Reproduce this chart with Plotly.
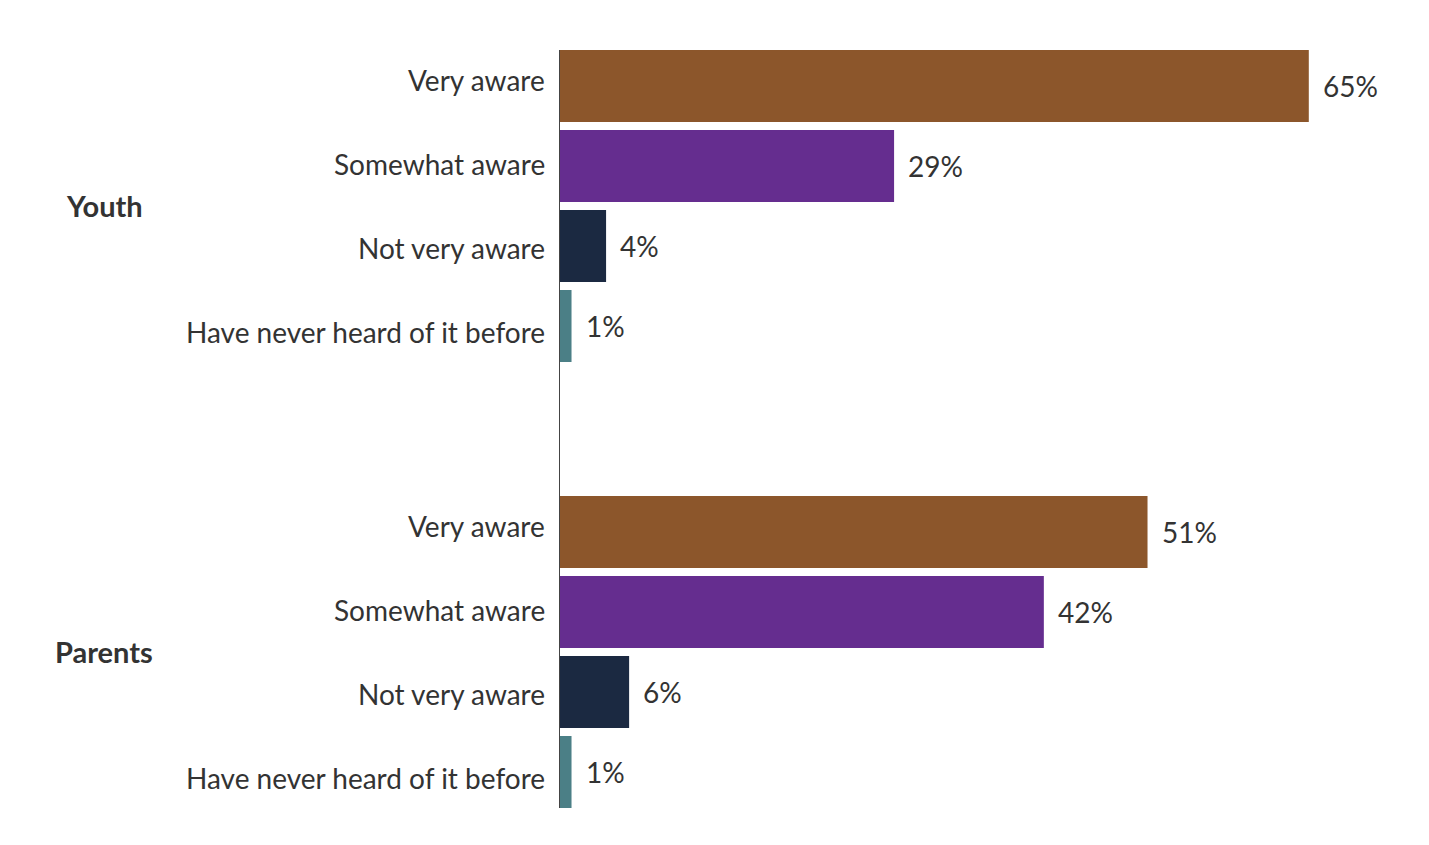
import plotly.graph_objects as go

# dados
groups = ['Youth', 'Parents']
answers = ['Very aware', 'Somewhat aware', 'Not very aware', 'Have never heard of it before']
youth = [65, 29, 4, 1]
parents = [51, 42, 6, 1]
colors = ['#8C562B', '#652D8F', '#1B2941', '#4B7F86']

GROUP_GAP = 2.575  # espaço extra entre os grupos (em unidades de linha)
FONT = 'Source Sans Pro, Lato, Noto Sans, sans-serif'
TXT = '#333333'

fig = go.Figure()

ypos = []
annots = []
for g, (name, vals) in enumerate(zip(groups, [youth, parents])):
    base = g * (len(answers) + GROUP_GAP - 1)
    pos = [base + i for i in range(len(answers))]
    ypos += pos
    fig.add_trace(go.Bar(
        x=vals, y=pos, orientation='h', width=0.9,
        marker=dict(color=colors, line=dict(width=0)),
        hovertemplate='%{x}%<extra>' + name + '</extra>',
        showlegend=False,
    ))
    for i, (v, p, a) in enumerate(zip(vals, pos, answers)):
        # rótulo do valor à direita da barra
        annots.append(dict(x=v, y=p, xref='x', yref='y', text=f'{v}%', showarrow=False,
                           xanchor='left', xshift=12,
                           font=dict(size=28, color=TXT, family=FONT)))
        # rótulo da categoria (no original o espaçamento é um pouco maior que o das barras)
        annots.append(dict(x=0, y=p, xref='paper', yref='y', text=a, showarrow=False,
                           xanchor='right', xshift=-13, yshift=6 - 4 * i,
                           font=dict(size=28, color=TXT, family=FONT)))
    annots.append(dict(x=0, y=(pos[0] + pos[-1]) / 2, xref='paper', yref='y', text=f'<b>{name}</b>',
                       showarrow=False, xanchor='center', xshift=-456, yshift=1,
                       font=dict(size=29, color=TXT, family=FONT)))

fig.update_layout(
    width=1429, height=845,
    margin=dict(l=552, r=13, t=42, b=45),
    plot_bgcolor='white', paper_bgcolor='white',
    font=dict(family=FONT, size=28, color=TXT),
    bargap=0.1,
    annotations=annots,
    xaxis=dict(range=[0, 75], showgrid=False, showticklabels=False, zeroline=False, showline=False),
    yaxis=dict(range=[ypos[-1] + 0.45, -0.45], showticklabels=False,
               showgrid=False, zeroline=False, showline=True, linecolor='#444444', linewidth=1,
               ticks=''),
)

fig.write_html('out.html')
